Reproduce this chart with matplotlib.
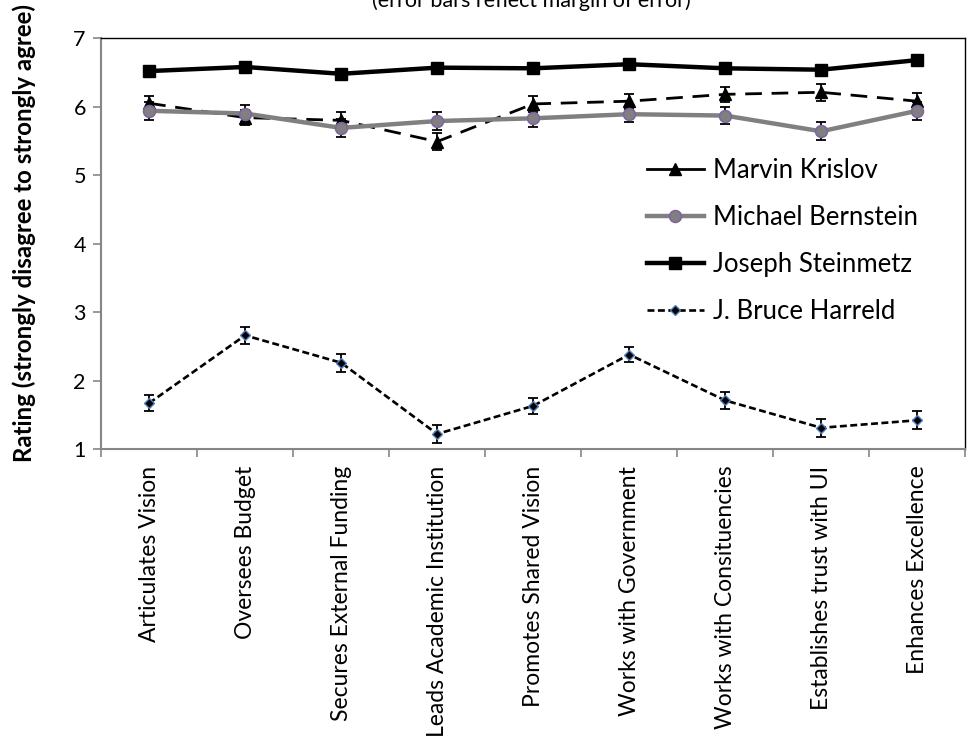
import numpy as np
import matplotlib
matplotlib.use("Agg")
import matplotlib.pyplot as plt
from matplotlib.lines import Line2D

plt.rcParams['font.family'] = ['Lato', 'DejaVu Sans']
plt.rcParams['lines.scale_dashes'] = False

categories = ["Articulates Vision", "Oversees Budget", "Secures External Funding",
              "Leads Academic Institution", "Promotes Shared Vision",
              "Works with Government", "Works with Consituencies",
              "Establishes trust with UI", "Enhances Excellence"]

krislov = [6.05, 5.84, 5.80, 5.49, 6.04, 6.08, 6.18, 6.21, 6.08]
krislov_err = [0.11, 0.11, 0.12, 0.13, 0.12, 0.11, 0.11, 0.12, 0.12]

bernstein = [5.94, 5.90, 5.69, 5.79, 5.83, 5.89, 5.87, 5.64, 5.94]
bernstein_err = [0.13, 0.12, 0.13, 0.13, 0.12, 0.12, 0.13, 0.13, 0.13]

steinmetz = [6.52, 6.58, 6.48, 6.57, 6.56, 6.62, 6.56, 6.54, 6.68]

harreld = [1.67, 2.66, 2.26, 1.22, 1.63, 2.38, 1.71, 1.31, 1.42]
harreld_err = [0.12, 0.12, 0.13, 0.13, 0.12, 0.11, 0.13, 0.13, 0.13]

x = np.arange(len(categories))

fig = plt.figure(figsize=(9.72, 7.49), dpi=100)
ax = fig.add_axes([0.104, 0.4005, 0.889, 0.5485])

# Marvin Krislov
ax.errorbar(x, krislov, yerr=krislov_err, fmt="none", ecolor="black",
            elinewidth=1.3, capsize=3.8, capthick=1.3, zorder=2)
l1, = ax.plot(x, krislov, color="black", lw=2.0, marker="^", ms=8, zorder=3)
l1.set_dashes([12, 7])

# Michael Bernstein
ax.errorbar(x, bernstein, yerr=bernstein_err, fmt="none", ecolor="black",
            elinewidth=1.3, capsize=3.8, capthick=1.3, zorder=4)
l2, = ax.plot(x, bernstein, color="#808080", lw=3.2, marker="o", ms=8.5,
              mfc="#808080", mec="#8064A2", mew=1.2, zorder=5)

# Joseph Steinmetz
l3, = ax.plot(x, steinmetz, color="black", lw=3.2, marker="s", ms=8, zorder=6)

# J. Bruce Harreld
ax.errorbar(x, harreld, yerr=harreld_err, fmt="none", ecolor="black",
            elinewidth=1.3, capsize=3.8, capthick=1.3, zorder=7)
l4, = ax.plot(x, harreld, color="black", lw=1.9, marker="D", ms=5.5,
              mfc="black", mec="#4F81BD", mew=1.0, zorder=8)
l4.set_dashes([5, 2.5])

ax.set_xlim(-0.5, len(categories) - 0.5)
ax.set_ylim(1, 7)
ax.set_yticks(range(1, 8))
ax.set_xticks(x)
ax.set_xticklabels(categories, rotation=90, fontsize=16.5)
ax.set_xticks(np.arange(-0.5, len(categories)), minor=True)
ax.tick_params(axis="x", which="major", length=0, pad=12)
ax.tick_params(axis="x", which="minor", length=6, color="#868686", width=1.2)
ax.tick_params(axis="y", labelsize=15.5, length=6, color="#868686", width=1.2, pad=5)

for side in ["left", "bottom"]:
    ax.spines[side].set_color("#868686")
    ax.spines[side].set_linewidth(1.5)
for side in ["top", "right"]:
    ax.spines[side].set_color("black")
    ax.spines[side].set_linewidth(1.0)

ax.set_ylabel("Rating (strongly disagree to strongly agree)", fontsize=17.3,
              fontweight="bold")
ax.yaxis.set_label_coords(-0.075, 0.527)

# legend: Krislov shown with a solid handle, as in the original
h1 = Line2D([], [], color="black", lw=2.0, marker="^", ms=8)
handles = [h1, l2, l3, l4]
labels = ["Marvin Krislov", "Michael Bernstein", "Joseph Steinmetz", "J. Bruce Harreld"]
ax.legend(handles, labels, loc="upper left", bbox_to_anchor=(0.632, 0.708),
          frameon=False, fontsize=18.5, handlelength=2.2, labelspacing=0.85,
          handletextpad=0.35, borderaxespad=0, borderpad=0)

fig.text(0.547, 1 - 7 / 749, "(error bars reflect margin of error)",
         ha="center", va="baseline", fontsize=15.5)

fig.savefig("out.png", dpi=100)
